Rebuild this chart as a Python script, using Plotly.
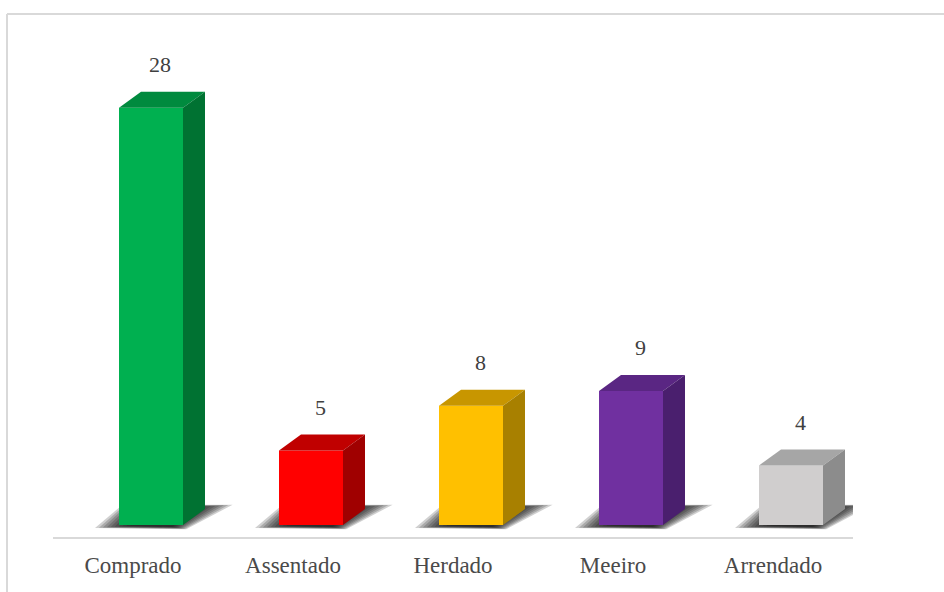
import plotly.graph_objects as go

categories = ["Comprado", "Assentado", "Herdado", "Meeiro", "Arrendado"]
values = [28, 5, 8, 9, 4]
front_colors = ["#00b050", "#ff0000", "#ffc000", "#7030a0", "#d0cece"]
top_colors = ["#008a3e", "#c00000", "#c89600", "#5a2683", "#a6a6a6"]
side_colors = ["#007232", "#a00000", "#a88000", "#4a1f6e", "#8c8c8c"]

FONT = "Liberation Serif, Times New Roman, serif"

# geometry (data units)
W = 0.4        # front face width
OFF = 0.1125   # front face center offset from category slot
DX = 0.1375    # depth offset x
DY = 1.07      # depth offset y

fig = go.Figure()

# soft floor shadows
for i, v in enumerate(values):
    xl = i + OFF - W / 2
    xr = i + OFF + W / 2
    pts = [(xl - 0.15, -0.2), (xr + 0.02, -0.28), (xr + 0.31, 1.36),
           (xr + 0.1375, 1.36), (xl, 1.16)]
    cx, cy = (xl + xr) / 2 + 0.06, 0.5
    n = 10
    for k in range(n):
        s = 1.0 - k * 0.06
        sy = 0.6 + 0.4 * s
        xs = [cx + (p[0] - cx) * s for p in pts] + [cx + (pts[0][0] - cx) * s]
        ys = [cy + (p[1] - cy) * sy for p in pts] + [cy + (pts[0][1] - cy) * sy]
        fig.add_trace(go.Scatter(x=xs, y=ys, mode="lines", fill="toself",
                                 fillcolor="rgba(20,20,20,0.2)",
                                 line=dict(width=0), hoverinfo="skip"))

# bar faces
for i, v in enumerate(values):
    xl = i + OFF - W / 2
    xr = i + OFF + W / 2
    fig.add_trace(go.Scatter(
        x=[xl, xl, xr, xr, xl], y=[0, v, v, 0, 0],
        mode="lines", fill="toself", fillcolor=front_colors[i],
        line=dict(width=0), hoverinfo="skip"))
    fig.add_trace(go.Scatter(
        x=[xl, xl + DX, xr + DX, xr, xl], y=[v, v + DY, v + DY, v, v],
        mode="lines", fill="toself", fillcolor=top_colors[i],
        line=dict(width=0), hoverinfo="skip"))
    fig.add_trace(go.Scatter(
        x=[xr, xr, xr + DX, xr + DX, xr], y=[0, v, v + DY, DY, 0],
        mode="lines", fill="toself", fillcolor=side_colors[i],
        line=dict(width=0), hoverinfo="skip"))
    fig.add_annotation(x=i + 0.17, y=v + 2.9, text=str(v), showarrow=False,
                       font=dict(family=FONT, size=22, color="#404040"))

L, R, T, B = 53, 91, 30, 55
PW, PH = 944 - L - R, 592 - T - B
def px(x):
    return (x - L) / PW
def py(y):
    return (592 - B - y) / PH

fig.add_shape(type="line", xref="paper", yref="paper", x0=px(7), x1=px(950),
              y0=py(14), y1=py(14), line=dict(color="#d9d9d9", width=2))
fig.add_shape(type="line", xref="paper", yref="paper", x0=px(7), x1=px(7),
              y0=py(14), y1=py(600), line=dict(color="#d9d9d9", width=2))

fig.update_layout(
    template="none",
    width=944, height=592,
    margin=dict(l=L, r=R, t=T, b=B),
    paper_bgcolor="white", plot_bgcolor="white",
    showlegend=False, hovermode=False,
    xaxis=dict(range=[-0.5, 4.5], tickmode="array", tickvals=list(range(5)),
               ticktext=categories, showgrid=False, zeroline=False,
               showline=True, linecolor="#d9d9d9", linewidth=2,
               ticks="outside", ticklen=6, tickcolor="rgba(0,0,0,0)",
               tickfont=dict(family=FONT, size=23, color="#4a4a4a"),
               automargin=False, fixedrange=True),
    yaxis=dict(range=[-0.805, 33.22], showgrid=False, zeroline=False,
               showticklabels=False, showline=False, automargin=False,
               fixedrange=True),
)

fig.write_html("out.html")
